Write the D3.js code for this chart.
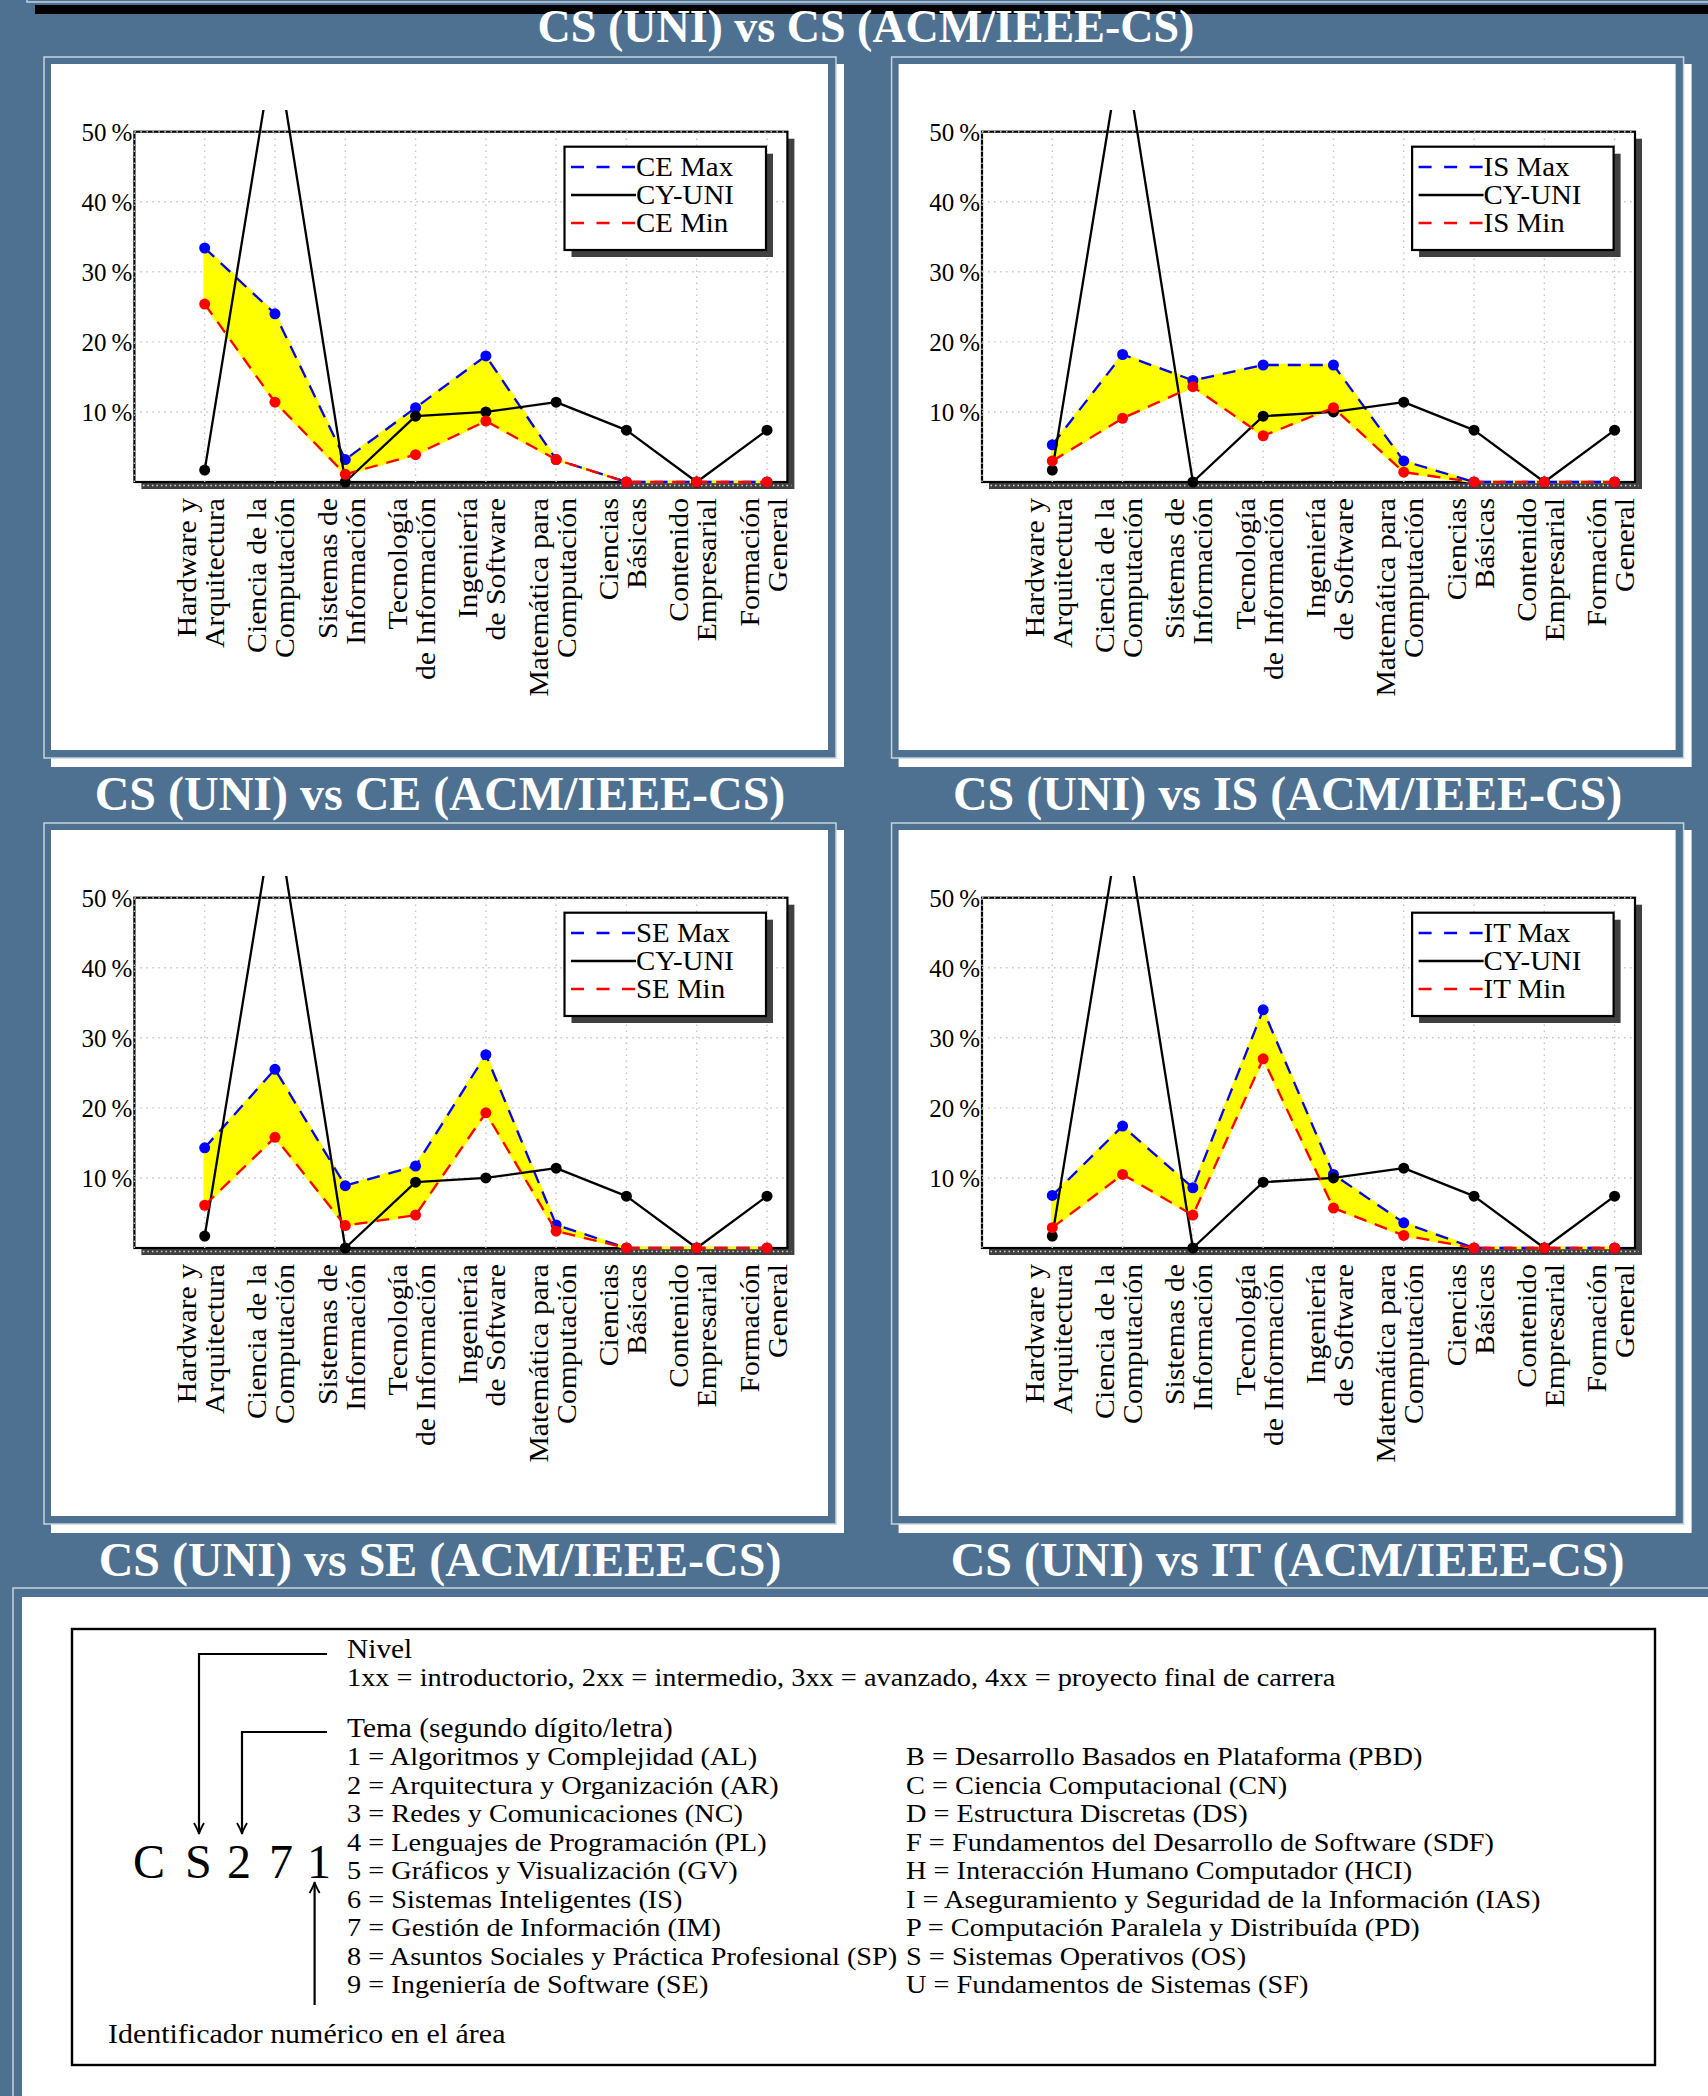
<!DOCTYPE html>
<html><head><meta charset="utf-8">
<script src="https://cdn.jsdelivr.net/npm/d3@7"></script>
<style>body{margin:0;background:#4e7191} svg{display:block}</style>
</head><body><svg id="c" width="1708" height="2096"></svg>
<script>
// ---------- data ----------
const categories = [["Hardware y","Arquitectura"],["Ciencia de la","Computación"],["Sistemas de","Información"],["Tecnología","de Información"],["Ingeniería","de Software"],["Matemática para","Computación"],["Ciencias","Básicas"],["Contenido","Empresarial"],["Formación","General"]];
const cyUni = [1.7, 63.2, 0, 9.4, 10.0, 11.4, 7.4, 0, 7.4];
const ceMax = [33.4, 24.0, 3.2, 10.6, 18.0, 3.2, 0, 0, 0];
const ceMin = [25.4, 11.4, 1.1, 3.9, 8.7, 3.2, 0, 0, 0];
const isMax = [5.3, 18.2, 14.5, 16.7, 16.7, 3.0, 0, 0, 0];
const isMin = [3.0, 9.1, 13.6, 6.6, 10.6, 1.4, 0, 0, 0];
const seMax = [14.3, 25.5, 8.9, 11.7, 27.6, 3.3, 0, 0, 0];
const seMin = [6.1, 15.8, 3.2, 4.7, 19.3, 2.4, 0, 0, 0];
const itMax = [7.5, 17.4, 8.6, 34.0, 10.5, 3.6, 0, 0, 0];
const itMin = [2.9, 10.5, 4.7, 27.0, 5.7, 1.8, 0, 0, 0];
const yTicks = [10, 20, 30, 40, 50];
const topTitle = "CS (UNI) vs CS (ACM/IEEE-CS)";
const panelCodes = ["CE", "IS", "SE", "IT"];
const nivelTitle = "Nivel";
const nivelText = "1xx = introductorio, 2xx = intermedio, 3xx = avanzado, 4xx = proyecto final de carrera";
const temaTitle = "Tema (segundo dígito/letra)";
const leftItems = ["1 = Algoritmos y Complejidad (AL)", "2 = Arquitectura y Organización (AR)", "3 = Redes y Comunicaciones (NC)", "4 = Lenguajes de Programación (PL)", "5 = Gráficos y Visualización (GV)", "6 = Sistemas Inteligentes (IS)", "7 = Gestión de Información (IM)", "8 = Asuntos Sociales y Práctica Profesional (SP)", "9 = Ingeniería de Software (SE)"];
const rightItems = ["B = Desarrollo Basados en Plataforma (PBD)", "C = Ciencia Computacional (CN)", "D = Estructura Discretas (DS)", "F = Fundamentos del Desarrollo de Software (SDF)", "H = Interacción Humano Computador (HCI)", "I = Aseguramiento y Seguridad de la Información (IAS)", "P = Computación Paralela y Distribuída (PD)", "S = Sistemas Operativos (OS)", "U = Fundamentos de Sistemas (SF)"];
const codeLetters = ["C", "S", "2", "7", "1"];
const idText = "Identificador numérico en el área";

// ---------- style ----------
const BG = "#4e7191", LIGHT = "#c6d3de", SHADOW = "#404040";
const SERIF = "'Liberation Serif', 'Times New Roman', serif";
const svg = d3.select("#c");
svg.append("rect").attr("width",1708).attr("height",2096).attr("fill",BG);

// stretched text helper (Computer Modern is wider than Times-like faces)
function stext(parent, x, y, size, t, sx, anchor, rot) {
  const tr = `translate(${x},${y})` + (rot ? ` rotate(${rot})` : "") + ` scale(${sx},1)`;
  return parent.append("text").attr("transform", tr).attr("text-anchor", anchor || "start")
    .attr("font-family", SERIF).attr("font-size", size).attr("fill", "#000").text(t);
}

// top remnant of previous box
svg.append("rect").attr("x",35).attr("y",5).attr("width",1680).attr("height",9).attr("fill","#000");
svg.append("path").attr("d","M27,-5 L27,2 L1720,2").attr("fill","none").attr("stroke",LIGHT).attr("stroke-width",1.5);
svg.append("text").attr("x",866).attr("y",42).attr("text-anchor","middle")
  .attr("font-family",SERIF).attr("font-weight","bold").attr("font-size",46).attr("fill","#fff").text(topTitle);

function panel(dx, dy, code, maxV, minV, idx) {
  const g = svg.append("g").attr("transform", `translate(${dx},${dy})`);
  g.append("rect").attr("x",51).attr("y",64).attr("width",793).attr("height",703).attr("fill","#fff");
  g.append("rect").attr("x",44).attr("y",57).attr("width",792).attr("height",701).attr("fill",BG).attr("stroke",LIGHT).attr("stroke-width",1.5);
  g.append("rect").attr("x",51).attr("y",64).attr("width",777).attr("height",686).attr("fill","#fff");

  const x = d3.scaleLinear().domain([-1, 8.29]).range([134.4, 787.4]);
  const y = d3.scaleLinear().domain([0, 50]).range([482, 131.7]);
  const x0 = x.range()[0], x1 = x.range()[1], yb = y(0), yt = y(50);

  // shadow + plot bg + frame
  g.append("rect").attr("x",x0+7).attr("y",yt+7).attr("width",x1-x0).attr("height",yb-yt).attr("fill",SHADOW);
  g.append("rect").attr("x",x0).attr("y",yt).attr("width",x1-x0).attr("height",yb-yt).attr("fill","#fff")
    .attr("stroke","#000").attr("stroke-width",2.2);

  // grid
  const gridStyle = s => s.attr("stroke","#c4c4c4").attr("stroke-width",1.4).attr("stroke-dasharray","1.5,4.5").attr("fill","none");
  categories.forEach((c,i) => gridStyle(g.append("line").attr("x1",x(i)).attr("x2",x(i)).attr("y1",yb).attr("y2",yt)));
  yTicks.forEach(t => gridStyle(g.append("line").attr("x1",x0).attr("x2",x1).attr("y1",y(t)).attr("y2",y(t))));
  gridStyle(g.append("line").attr("x1",x0).attr("x2",x0).attr("y1",yb).attr("y2",yt));
  g.append("line").attr("x1",x0+4).attr("x2",x1+4).attr("y1",yb+3.5).attr("y2",yb+3.5)
    .attr("stroke","#d8d8d8").attr("stroke-width",1.4).attr("stroke-dasharray","1.5,3");

  // y tick labels
  yTicks.forEach(t => g.append("text").attr("x",x0-2).attr("y",y(t)).attr("dy","0.36em").attr("text-anchor","end")
    .attr("font-family",SERIF).attr("font-size",25).attr("fill","#000").text(t + "\u2009%"));

  // x labels
  categories.forEach((lines,i) => {
    lines.forEach((t,j) => stext(g, x(i) + (j===0 ? -8.5 : 19.5), 498, 28, t, 1.06, "end", -90));
  });

  // fill between
  const area = d3.area().x((d,i)=>x(i)).y0((d,i)=>y(minV[i])).y1((d,i)=>y(maxV[i]));
  g.append("path").attr("d",area(maxV)).attr("fill","#ffff00").attr("stroke","#ffff00").attr("stroke-width",2.5);

  const line = d3.line().x((d,i)=>x(i)).y(d=>y(d));
  const clipId = "clip" + idx;
  g.append("clipPath").attr("id",clipId).append("rect").attr("x",x0-5).attr("y",110).attr("width",x1-x0+10).attr("height",yb-110+10);

  function series(vals, color, dash, clip) {
    const sg = g.append("g");
    if (clip) sg.attr("clip-path",`url(#${clipId})`);
    sg.append("path").attr("d",line(vals)).attr("fill","none").attr("stroke",color).attr("stroke-width",2.3)
      .attr("stroke-dasharray",dash).attr("stroke-linejoin","round");
    sg.selectAll("circle").data(vals).join("circle").attr("cx",(d,i)=>x(i)).attr("cy",d=>y(d)).attr("r",5.5).attr("fill",color);
  }
  series(maxV, "#0000ff", "13,9", false);
  series(cyUni, "#000000", null, true);
  series(minV, "#ff0000", "13,9", false);

  // legend
  const lx = 564.5, ly = 146.7, lw = 201.5, lh = 103.3;
  g.append("rect").attr("x",lx+7).attr("y",ly+7).attr("width",lw).attr("height",lh).attr("fill",SHADOW);
  g.append("rect").attr("x",lx).attr("y",ly).attr("width",lw).attr("height",lh).attr("fill","#fff").attr("stroke","#000").attr("stroke-width",2.2);
  const legendItems = [[code + " Max", "#0000ff", "13,12.5"], ["CY-UNI", "#000000", null], [code + " Min", "#ff0000", "13,12.5"]];
  legendItems.forEach((it,k) => {
    const ry = 167 + k*28;
    g.append("line").attr("x1",571).attr("x2",636).attr("y1",ry).attr("y2",ry).attr("stroke",it[1]).attr("stroke-width",2.3).attr("stroke-dasharray",it[2]);
    stext(g, 636, 176 + k*28, 27, it[0], 1.07);
  });

  // title below
  g.append("text").attr("x",440).attr("y",810).attr("text-anchor","middle").attr("font-family",SERIF)
    .attr("font-weight","bold").attr("font-size",48).attr("fill","#fff").text("CS (UNI) vs " + code + " (ACM/IEEE-CS)");
}

const panelData = [[ceMax, ceMin], [isMax, isMin], [seMax, seMin], [itMax, itMin]];
const offsets = [[0,0],[847.6,0],[0,766],[847.6,766]];
panelCodes.forEach((c,i) => panel(offsets[i][0], offsets[i][1], c, panelData[i][0], panelData[i][1], i));

// ---------- bottom box ----------
svg.append("rect").attr("x",13).attr("y",1588).attr("width",1720).attr("height",600).attr("fill",BG).attr("stroke",LIGHT).attr("stroke-width",1.5);
svg.append("rect").attr("x",22).attr("y",1597).attr("width",1700).attr("height",600).attr("fill","#fff");
svg.append("rect").attr("x",72).attr("y",1629).attr("width",1583).attr("height",436).attr("fill","none").attr("stroke","#000").attr("stroke-width",2.4);

const SX = 1.09;
stext(svg, 347, 1658, 28, nivelTitle, 1.05);
stext(svg, 347, 1686, 26, nivelText, SX);
stext(svg, 347, 1737, 28, temaTitle, 1.05);
leftItems.forEach((t,i) => stext(svg, 347, 1765 + i*28.55, 26, t, SX));
rightItems.forEach((t,i) => stext(svg, 906, 1765 + i*28.55, 26, t, SX));
stext(svg, 108, 2043, 28, idText, 1.07);

const codeX = [133, 185, 227, 269, 307];
codeLetters.forEach((c,i) => stext(svg, codeX[i], 1878, 48, c, 1.0));

const arrowStroke = s => s.attr("fill","none").attr("stroke","#000").attr("stroke-width",2.2);
arrowStroke(svg.append("path").attr("d","M327,1654 L199,1654 L199,1832"));
arrowStroke(svg.append("path").attr("d","M327,1732 L242,1732 L242,1832"));
arrowStroke(svg.append("path").attr("d","M314.6,2005 L314.6,1884"));
const head = (x,y,dir) => svg.append("path")
  .attr("d",`M${x-5},${y-11*dir} Q${x-1},${y-4*dir} ${x},${y} Q${x+1},${y-4*dir} ${x+5},${y-11*dir}`)
  .attr("fill","none").attr("stroke","#000").attr("stroke-width",1.8);
head(199,1834,1); head(242,1834,1); head(314.6,1882,-1);
</script></body></html>
